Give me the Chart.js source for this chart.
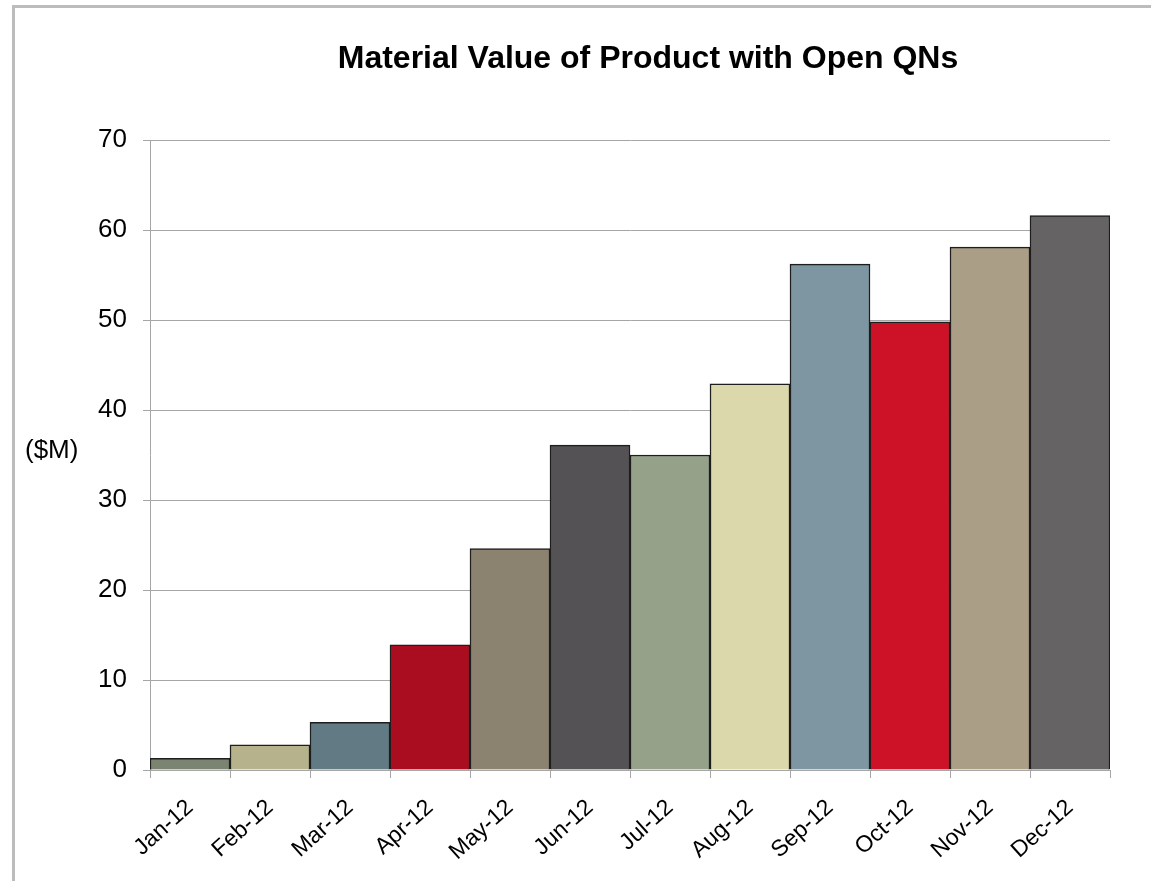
<!DOCTYPE html>
<html>
<head>
<meta charset="utf-8">
<script src="https://cdn.jsdelivr.net/npm/chart.js@4/dist/chart.umd.min.js"></script>
<style>
  body { margin: 0; background: #fff; }
  canvas { display: block; }
</style>
</head>
<body>
<canvas id="qnChart" width="1151" height="881"></canvas>
<script>
// données
const months = ["Jan-12", "Feb-12", "Mar-12", "Apr-12", "May-12", "Jun-12", "Jul-12", "Aug-12", "Sep-12", "Oct-12", "Nov-12", "Dec-12"]
const values = [1.3, 2.8, 5.3, 13.9, 24.6, 36.1, 35.0, 42.9, 56.2, 49.8, 58.1, 61.6]
const barColors = ["#7b8470", "#b5b28c", "#627a84", "#a90d1f", "#8c8270", "#545254", "#96a18a", "#dbd8ab", "#7d96a1", "#cd1126", "#aa9e87", "#656364"]
const unitLabel = "($M)"
const chartTitle = "Material Value of Product with Open QNs"

const FONT = "'Liberation Sans', Arial, sans-serif"

// cadre gris, titre décalé et libellé ($M) horizontal
const extras = {
  id: 'extras',
  beforeDraw(chart) {
    const ctx = chart.ctx
    ctx.save()
    ctx.strokeStyle = '#bcbcbc'
    ctx.lineWidth = 3
    ctx.beginPath()
    ctx.moveTo(13.5, 900)
    ctx.lineTo(13.5, 6.5)
    ctx.lineTo(1160, 6.5)
    ctx.stroke()
    ctx.restore()
  },
  afterDraw(chart) {
    const ctx = chart.ctx
    ctx.save()
    ctx.fillStyle = '#000'
    ctx.textBaseline = 'middle'
    ctx.font = 'bold 32px ' + FONT
    ctx.textAlign = 'center'
    ctx.fillText(chartTitle, 648, 59)
    ctx.font = '26px ' + FONT
    ctx.textAlign = 'left'
    ctx.fillText(unitLabel, 25, 451)
    ctx.restore()
  }
}

const config = {
  type: 'bar',
  data: {
    labels: months,
    datasets: [{
      data: values,
      backgroundColor: barColors,
      borderColor: '#1e1e1e',
      borderWidth: 1.5,
      barPercentage: 1,
      categoryPercentage: 1
    }]
  },
  options: {
    responsive: false,
    animation: false,
    layout: { padding: { top: 140, right: 41, left: 0, bottom: 0 } },
    plugins: {
      legend: { display: false },
      tooltip: { enabled: false },
      title: { display: false }
    },
    scales: {
      x: {
        grid: { drawOnChartArea: false, drawTicks: true, tickLength: 8, color: '#a6a6a6', offset: true },
        border: { color: '#a6a6a6', width: 1 },
        ticks: {
          color: '#000',
          font: { family: FONT, size: 23 },
          minRotation: 42,
          maxRotation: 42,
          padding: 16
        },
        afterFit(scale) { scale.height = 111 }
      },
      y: {
        min: 0,
        max: 70,
        grid: { color: '#a6a6a6', tickLength: 7 },
        border: { color: '#a6a6a6', width: 1 },
        ticks: {
          stepSize: 10,
          color: '#000',
          font: { family: FONT, size: 26 },
          padding: 16
        },
        afterFit(scale) { scale.width = 150 }
      }
    }
  },
  plugins: [extras]
}

const qnChart = new Chart(document.getElementById('qnChart'), config)
</script>
</body>
</html>
